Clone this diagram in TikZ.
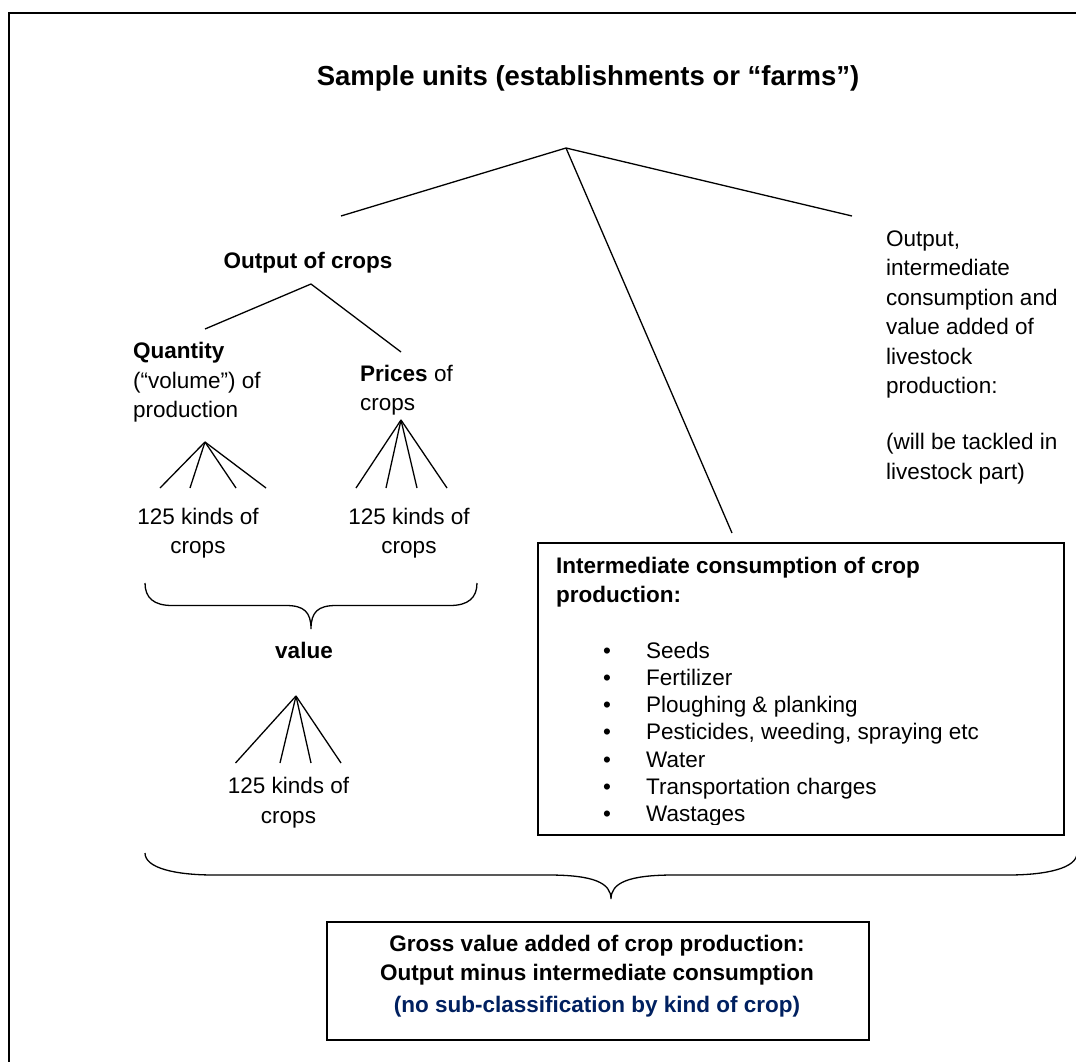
\documentclass[tikz,border=0pt]{standalone}
\usepackage{fontspec}
\setmainfont{Liberation Sans}
\usepackage{tikz}
\usetikzlibrary{calc}
\definecolor{navyblue}{RGB}{0,32,96}

\tikzset{
  treeline/.style={line width=1.3pt},
  boxline/.style={line width=1.5pt},
  bodytext/.style={font=\fontsize{22.5}{29.4}\selectfont, inner sep=0pt},
  boldtext/.style={font=\fontsize{22.5}{29.4}\selectfont\bfseries, inner sep=0pt},
}

\begin{document}
\begin{tikzpicture}[x=1pt, y=-1pt]
\useasboundingbox (0,0) rectangle (1076,1062);
\pgfmathsetmacro{\fanY}{488}
\pgfmathsetmacro{\valueFanY}{763}

% Outer frame (only top and left edges are on the page)
\draw[line width=2pt] (9,1075) -- (9,13) -- (1090,13);

% Title
\node[inner sep=0pt, font=\fontsize{27.5}{33}\selectfont\bfseries, anchor=base] (title) at (588,85.5) {Sample units (establishments or “farms”)};

% Split of the sample units
\coordinate (top) at (566,148);
\coordinate (cropsEnd) at (341,216);
\coordinate (liveEnd) at (852,216);
\coordinate (icEnd) at (732,533);
\draw[treeline] (cropsEnd) -- (top) -- (liveEnd);
\draw[treeline] (top) -- (icEnd);

% Output of crops (multi-line nodes sit on the baseline of their last line)
\node[boldtext, anchor=base] (output) at (308,268) {Output of crops};
\coordinate (outTop) at (311,284);
\coordinate (qtyEnd) at (205,329);
\coordinate (priceEnd) at (401,352);
\draw[treeline] (qtyEnd) -- (outTop) -- (priceEnd);

\node[bodytext, align=left, anchor=base west] (quantity) at (133,417.6) {\textbf{Quantity}\\(“volume”) of\\production};
\node[bodytext, align=left, anchor=base west] (prices) at (360,410.4) {\textbf{Prices} of\\crops};

% Fans down to the kinds of crops
\coordinate (qtyFan) at (205,442);
\foreach \xend [count=\i] in {160,190,236,266} {
  \coordinate (qtyLeaf\i) at (\xend,\fanY);
  \draw[treeline] (qtyFan) -- (qtyLeaf\i);
}
\coordinate (priceFan) at (401,420);
\foreach \xend [count=\i] in {356,386,417,447} {
  \coordinate (priceLeaf\i) at (\xend,\fanY);
  \draw[treeline] (priceFan) -- (priceLeaf\i);
}
\node[bodytext, align=center, anchor=base] (qtyKinds) at (198,553.4) {125 kinds of\\crops};
\node[bodytext, align=center, anchor=base] (priceKinds) at (409,553.4) {125 kinds of\\crops};

% Brace to value
\draw[treeline] (145,583) .. controls (145,598) and (154,605.5) .. (172,605.5)
  -- (286,605.5) .. controls (304,605.5) and (311,612) .. (311,629)
  .. controls (311,612) and (318,605.5) .. (336,605.5)
  -- (450,605.5) .. controls (468,605.5) and (477,598) .. (477,583);
\node[boldtext, anchor=base] (value) at (304,658) {value};
\coordinate (valueFan) at (296,696);
\foreach \xend [count=\i] in {235.5,280,311,341} {
  \coordinate (valueLeaf\i) at (\xend,\valueFanY);
  \draw[treeline] (valueFan) -- (valueLeaf\i);
}
\node[bodytext, align=center, anchor=base] (valueKinds) at (288.5,823) {125 kinds of\\crops};

% Livestock
\node[bodytext, align=left, anchor=base west] (livestock) at (886,479) {Output,\\intermediate\\consumption and\\value added of\\livestock\\production:\\[26.7pt](will be tackled in\\livestock part)};

% Intermediate consumption box
\node[draw, boxline, minimum width=526pt, minimum height=292pt, inner sep=0pt, anchor=north west] (icbox) at (537,542) {};
\node[boldtext, align=left, anchor=base west] (icTitle) at (556,602.8) {Intermediate consumption of crop\\production:};
\begin{scope}
\clip (537,542) rectangle (1063,824.5);
\foreach \ictext [count=\i] in {Seeds, Fertilizer, Ploughing \& planking, {Pesticides, weeding, spraying etc}, Water, Transportation charges, Wastages} {
  \pgfmathsetmacro{\itemY}{658+(\i-1)*27.3}
  \node[bodytext, anchor=base] (icDot\i) at (607,\itemY) {\textbullet};
  \node[bodytext, anchor=base west] (icItem\i) at (646,\itemY) {\ictext};
}
\end{scope}

% Big brace to gross value added
\draw[treeline] (145,853) .. controls (145,868) and (175,875) .. (214,875)
  -- (548,875) .. controls (594,875) and (611,883) .. (611,899)
  .. controls (611,883) and (628,875) .. (674,875)
  -- (1008,875) .. controls (1047,875) and (1077,868) .. (1077,853);

% Gross value added box
\node[draw, boxline, minimum width=542pt, minimum height=118pt, inner sep=0pt, anchor=north west] (gvabox) at (326,921) {};
\node[boldtext, align=center, anchor=base] (gvaText) at (597,1012.4) {Gross value added of crop production:\\Output minus intermediate consumption\\[2.6pt]\textcolor{navyblue}{(no sub-classification by kind of crop)}};
\end{tikzpicture}
\end{document}
